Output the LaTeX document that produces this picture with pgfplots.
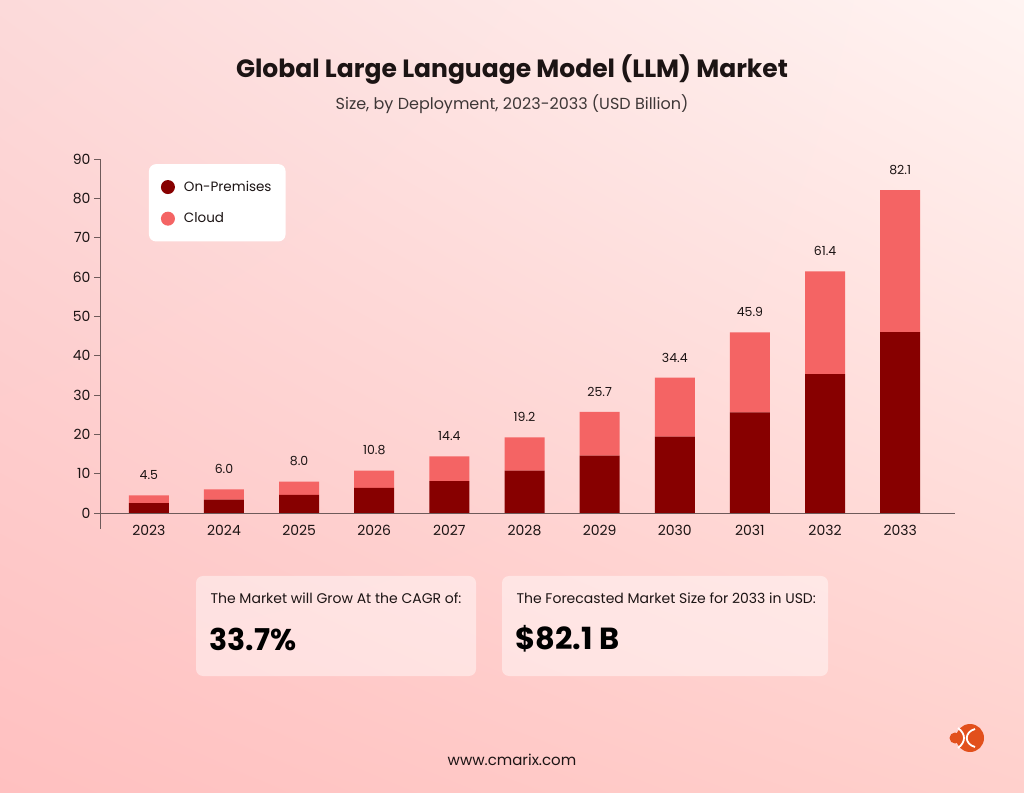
\documentclass[border=0pt]{standalone}
\usepackage{pgfplots}
\pgfplotsset{compat=1.18}
\usepackage{pgfplotstable}
\usepackage{fontspec}
\setmainfont{Poppins}
\usetikzlibrary{shadings}

\definecolor{onprem}{HTML}{870000}
\definecolor{cloud}{HTML}{F46464}
\definecolor{ink}{HTML}{1C1414}
\definecolor{axisgray}{HTML}{6E5A5A}
\definecolor{bgUL}{HTML}{FCDADA}
\definecolor{bgUR}{HTML}{FFF4F2}
\definecolor{bgLL}{HTML}{FFC0C0}
\definecolor{bgLR}{HTML}{FFD0CC}
\definecolor{logo}{HTML}{E2501C}

% deployment split, USD billion
\pgfplotstableread{
x  year onprem cloud total
0  2023 2.5   2.0   4.5
1  2024 3.4   2.6   6.0
2  2025 4.6   3.4   8.0
3  2026 6.4   4.4   10.8
4  2027 8.1   6.3   14.4
5  2028 10.8  8.4   19.2
6  2029 14.6  11.1  25.7
7  2030 19.4  15.0  34.4
8  2031 25.6  20.3  45.9
9  2032 35.3  26.1  61.4
10 2033 46.0  36.1  82.1
}\llmdata

\pgfplotsset{
  llmframe/.style={
    at={(100pt,279pt)}, anchor=south west,
    scale only axis, width=855pt, height=354pt,
    xmin=-0.65, xmax=10.73, ymin=0, ymax=90,
    clip=false,
  },
}

\begin{document}
\begin{tikzpicture}
% page background
\shade[upper left=bgUL, upper right=bgUR, lower left=bgLL, lower right=bgLR]
  (0pt,0pt) rectangle (1024pt,792pt);

% titles
\node[font=\fontsize{25}{28}\selectfont\bfseries, text=ink] at (512pt,722pt)
  {Global Large Language Model (LLM) Market};
\node[font=\fontsize{16}{19}\selectfont, text=ink!85] at (512pt,688pt)
  {Size, by Deployment, 2023-2033 (USD Billion)};

\begin{axis}[
  llmframe,
  ybar stacked, bar width=40pt,
  axis x line*=bottom, axis y line*=left,
  axis line style={axisgray, line width=0.8pt, -},
  xtick=data,
  xticklabels={2023,2024,2025,2026,2027,2028,2029,2030,2031,2032,2033},
  ytick={0,10,...,90},
  major tick length=6pt,
  xtick style={draw=none},
  ytick style={axisgray, line width=0.8pt},
  tick align=outside,
  /pgf/number format/assume math mode=true,
  ticklabel style={font=\fontsize{14}{16}\selectfont, text=ink},
  xticklabel style={yshift=-3pt},
  legend style={at={(axis description cs:0.057,0.986)}, anchor=north west,
    draw=none, fill=white, rounded corners=7pt,
    inner xsep=12pt, inner ysep=15pt,
    font=\fontsize{13.5}{16}\selectfont, text=ink,
    row sep=16pt, column sep=7pt},
  legend cell align=left,
]
\addplot[fill=onprem, draw=none,
  legend image code/.code={\fill[onprem] (0pt,0pt) circle (7pt);}]
  table[x=x, y=onprem]{\llmdata};
\addlegendentry{On-Premises}
\addplot[fill=cloud, draw=none,
  legend image code/.code={\fill[cloud] (0pt,0pt) circle (7pt);}]
  table[x=x, y=cloud]{\llmdata};
\addlegendentry{Cloud}
% short overhang of the value axis below the baseline
\draw[axisgray, line width=0.8pt] (rel axis cs:0,0) -- ++(0pt,-16pt);
\end{axis}

% totals above each stack, on the same frame
\begin{axis}[llmframe, hide axis]
\addplot[draw=none, mark=none,
  point meta=explicit,
  nodes near coords={\pgfmathprintnumber[fixed,fixed zerofill,precision=1,assume math mode=true]{\pgfplotspointmeta}},
  every node near coord/.append style={font=\fontsize{12.5}{14}\selectfont, text=ink, anchor=south, yshift=12pt}]
  table[x=x, y=total, meta=total]{\llmdata};
\end{axis}

% summary cards
\fill[white, opacity=0.45, rounded corners=7pt] (196pt,116pt) rectangle (476pt,216pt);
\fill[white, opacity=0.45, rounded corners=7pt] (502pt,116pt) rectangle (828pt,216pt);
\node[anchor=west, font=\fontsize{14}{16}\selectfont, text=ink] at (207pt,194pt)
  {The Market will Grow At the CAGR of:};
\node[anchor=west, font=\fontsize{30}{34}\selectfont\bfseries, text=black] at (206pt,153pt)
  {33.7\%};
\node[anchor=west, font=\fontsize{14}{16}\selectfont, text=ink] at (513pt,194pt)
  {The Forecasted Market Size for 2033 in USD:};
\node[anchor=west, font=\fontsize{30.5}{34}\selectfont\bfseries, text=black] at (512pt,153pt)
  {\$82.1 B};

% footer
\node[font=\fontsize{15}{17}\selectfont, text=ink] at (512pt,32pt) {www.cmarix.com};

% logo mark
\fill[logo] (970pt,54pt) circle (14pt);
\draw[white, line width=1.8pt] (958pt,44pt) .. controls (966pt,50pt) and (966pt,58pt) .. (958pt,64pt);
\draw[white, line width=1.8pt] (975pt,45pt) .. controls (964pt,48pt) and (964pt,60pt) .. (975pt,63pt);
\fill[logo] (955pt,54pt) circle (5.5pt);
\end{tikzpicture}
\end{document}
